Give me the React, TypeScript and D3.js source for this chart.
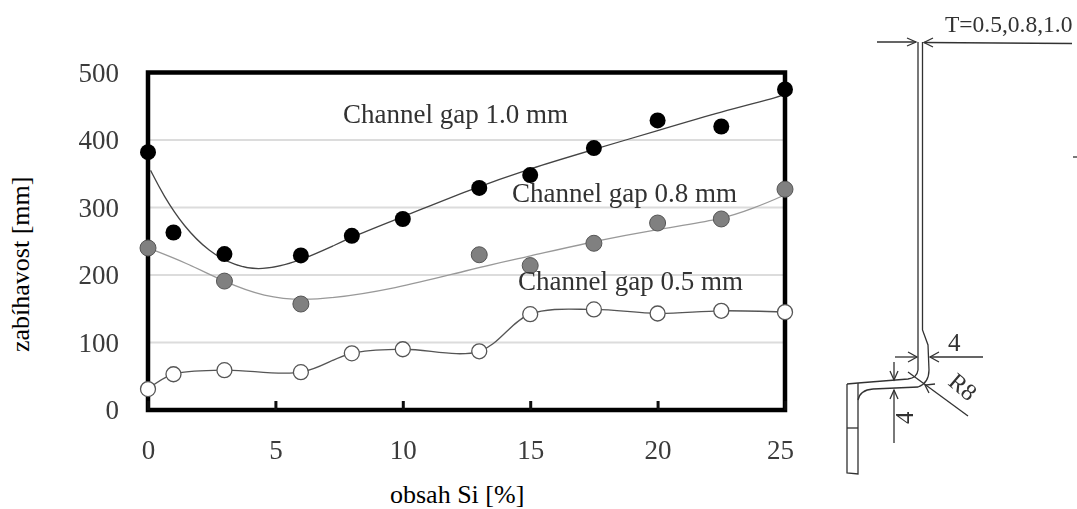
import React, { useEffect, useRef } from 'react'
import { select, axisBottom, axisLeft, scaleLinear, line, curveCatmullRom, curveBasis } from 'd3'

// si content [%] for each measured series
const siGap10 = [0, 1, 3, 6, 8, 10, 13, 15, 17.5, 20, 22.5, 25]
const valGap10 = [382, 263, 231, 229, 258, 283, 329, 348, 388, 429, 420, 475]
const siGap08 = [0, 3, 6, 13, 15, 17.5, 20, 22.5, 25]
const valGap08 = [240, 191, 157, 230, 214, 247, 277, 283, 327]
const siGap05 = [0, 1, 3, 6, 8, 10, 13, 15, 17.5, 20, 22.5, 25]
const valGap05 = [31, 53, 59, 56, 84, 90, 87, 142, 149, 143, 147, 145]

// fitted trend lines
const trendSi10 = [0.1, 0.6, 1.4, 2.4, 3.4, 4.4, 6, 8, 10, 12.6, 15, 17.5, 20, 22.5, 25, 25]
const trendVal10 = [355, 318, 272, 234, 214, 206, 220, 257, 286, 326, 358, 386, 414, 442, 466, 469]
const trendSi08 = [0, 1.5, 3, 4.5, 6.4, 9.8, 12.6, 15, 17.5, 20, 22.5, 23.7, 25, 25]
const trendVal08 = [240, 218, 190, 168, 160, 180, 208, 228, 250, 268, 282, 298, 318, 321]

const xTicks = [0, 5, 10, 15, 20, 25]
const yTicks = [0, 100, 200, 300, 400, 500]
const gridValues = [100, 200, 300, 400]

const seriesLabels = ['Channel gap 1.0 mm', 'Channel gap 0.8 mm', 'Channel gap 0.5 mm']

const x = scaleLinear().domain([0, 25]).range([148, 785])
const y = scaleLinear().domain([0, 500]).range([410, 72.5])

const SERIF = '"Liberation Serif", serif'

const zip = (a: number[], b: number[]) => a.map((v, i) => [v, b[i]] as [number, number])

const trend = line<[number, number]>()
  .x(d => x(d[0]))
  .y(d => y(d[1]))
  .curve(curveBasis)

const line05 = line<[number, number]>()
  .x(d => x(d[0]))
  .y(d => y(d[1]))
  .curve(curveCatmullRom.alpha(0.5))

// cross section sketch on the right, page pixels
const sketchPaths = [
  'M877 42H916', 'M924 42.5L1072 43.5',
  'M907 38L916 42L907 46', 'M933 38L924 42.5L933 47',
  'M918 42V370Q917 378 908 379L858 383L847 384',
  'M922.5 42V330L928 345L929 370Q929 383 918 387L873 389Q860 390 858 400',
  'M847 384V473L858 474V383', 'M847 428H858',
  'M895 357H917', 'M930 357H983',
  'M908 352L917 357L908 362', 'M939 352L930 357L939 362',
  'M894 362V380', 'M894 390V443',
  'M890 371L894 380L898 371', 'M890 399L894 390L898 399',
  'M908 372L968 416', 'M935 384L925 385L929 393',
  'M1073 157H1077',
]

const App = () => {
  const xRef = useRef<SVGGElement>(null)
  const yRef = useRef<SVGGElement>(null)

  useEffect(() => {
    const xAxis = axisBottom(x).tickValues(xTicks).tickSize(-9).tickPadding(30)
    const gx = select(xRef.current).attr('transform', 'translate(0,410)').call(xAxis as any)
    const yAxis = axisLeft(y).tickValues(yTicks).tickSize(0).tickPadding(29)
    const gy = select(yRef.current).attr('transform', 'translate(148,0)').call(yAxis as any)
    gx.select('.domain').remove()
    gy.select('.domain').remove()
    gx.selectAll('line').attr('stroke', '#111').attr('stroke-width', 3)
    ;[gx, gy].forEach(g =>
      g.selectAll('text').attr('fill', '#3a3a3a').attr('font-size', 27).attr('font-family', SERIF)
    )
    // the last label sits a little inside the frame corner
    gx.selectAll('text').filter((d: any) => d === 25).attr('dx', -5)
  }, [])

  return (
    <svg width={1077} height={509} style={{ position: 'absolute', left: 0, top: 0, background: '#fff' }}>
      <defs>
        <filter id="soft" x="-5%" y="-5%" width="110%" height="110%">
          <feGaussianBlur stdDeviation="0.6" />
        </filter>
      </defs>

      <g filter="url(#soft)">
        {gridValues.map(v => (
          <line key={v} x1={x(0)} x2={x(25)} y1={y(v)} y2={y(v)} stroke="#dcdcdc" strokeWidth={2} />
        ))}
        <rect x={x(0)} y={y(500)} width={x(25) - x(0)} height={y(0) - y(500)} fill="none" stroke="#000" strokeWidth={4.5} />
        <g ref={xRef} />
        <g ref={yRef} />

        <path d={trend(zip(trendSi10, trendVal10)) || ''} fill="none" stroke="#444" strokeWidth={1.3} />
        <path d={trend(zip(trendSi08, trendVal08)) || ''} fill="none" stroke="#999" strokeWidth={1.3} />
        <path d={line05(zip(siGap05, valGap05)) || ''} fill="none" stroke="#555" strokeWidth={1.3} />

        {siGap10.map((s, i) => (
          <circle key={s} cx={x(s)} cy={y(valGap10[i])} r={8} fill="#000" />
        ))}
        {siGap08.map((s, i) => (
          <circle key={s} cx={x(s)} cy={y(valGap08[i])} r={8} fill="#808080" stroke="#555" strokeWidth={1} />
        ))}
        {siGap05.map((s, i) => (
          <circle key={s} cx={x(s)} cy={y(valGap05[i])} r={7.5} fill="#fff" stroke="#555" strokeWidth={1.3} />
        ))}

        <g fontFamily={SERIF} fill="#333" fontSize={27}>
          <text x={343} y={123}>{seriesLabels[0]}</text>
          <text x={512} y={202}>{seriesLabels[1]}</text>
          <text x={518} y={290}>{seriesLabels[2]}</text>
        </g>

        <g fill="none" stroke="#333" strokeWidth={1.3}>
          {sketchPaths.map(d => <path key={d} d={d} />)}
        </g>
        <g fontFamily={SERIF} fill="#333">
          <text x={945} y={32} fontSize={23.5}>T=0.5,0.8,1.0</text>
          <text x={948} y={351} fontSize={25}>4</text>
          <text transform="translate(913,424) rotate(-90)" fontSize={25}>4</text>
          <text transform="translate(947,384) rotate(40)" fontSize={24}>R8</text>
        </g>
      </g>

      <text transform="translate(29,352) rotate(-90)" fontFamily={SERIF} fontSize={26} fill="#000">zabíhavost [mm]</text>
      <text x={390} y={503} fontFamily={SERIF} fontSize={26} fill="#000">obsah Si [%]</text>
    </svg>
  )
}

export default App
